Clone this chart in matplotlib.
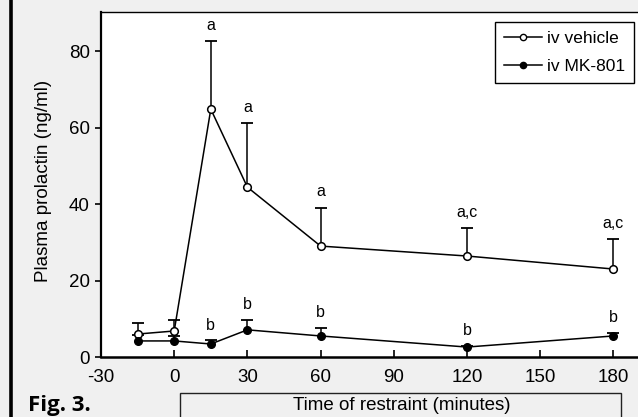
import matplotlib
matplotlib.use("Agg")
import matplotlib.pyplot as plt
from matplotlib.lines import Line2D
from matplotlib.patches import Rectangle

# time points (minutes)
times = [-15, 0, 15, 30, 60, 120, 180]

# iv vehicle: mean and upper SEM tip
vehicle_mean = [6.0, 6.8, 64.8, 44.4, 29.0, 26.4, 23.0]
vehicle_top = [8.9, 9.7, 82.6, 61.2, 39.0, 33.7, 30.8]
vehicle_sig = ["", "", "a", "a", "a", "a,c", "a,c"]

# iv MK-801
mk_mean = [4.2, 4.2, 3.4, 7.1, 5.5, 2.6, 5.5]
mk_top = [5.8, 5.5, 4.4, 9.7, 7.6, 2.9, 6.3]
mk_sig = ["", "", "b", "b", "b", "b", "b"]

xticks = [-30, 0, 30, 60, 90, 120, 150, 180]
yticks = [0, 20, 40, 60, 80]

W, H = 638, 417
BG = "#f0f0f0"
FS = 13.5

plt.rcParams["font.family"] = ["Liberation Sans", "DejaVu Sans"]
plt.rcParams["axes.unicode_minus"] = False

fig = plt.figure(figsize=(W / 100, H / 100), dpi=100, facecolor=BG)
ax = fig.add_axes([101 / W, 1 - 357 / H, 539 / W, 345 / H])
ax.set_facecolor("white")

# upper-only error bars: stem + cap at the top
for top, mean in ((vehicle_top, vehicle_mean), (mk_top, mk_mean)):
    ax.vlines(times, mean, top, color="black", lw=1.1, zorder=2)
    ax.plot(times, top, ls="none", marker="_", ms=8, mew=1.3, color="black", zorder=2)

ax.plot(times, vehicle_mean, color="black", lw=1.1, marker="o", ms=5.5,
        mfc="white", mec="black", mew=1.1, zorder=3)
ax.plot(times, mk_mean, color="black", lw=1.1, marker="o", ms=5.5,
        mfc="black", mec="black", zorder=3)

# significance letters above the error caps
for x, top, s in zip(times, vehicle_top, vehicle_sig):
    if s:
        ax.text(x, top + 2.2, s, ha="center", va="bottom", fontsize=11.5)
for x, top, s in zip(times, mk_top, mk_sig):
    if s:
        ax.text(x, top + 2.0, s, ha="center", va="bottom", fontsize=11.5)

ax.set_xlim(-30, -30 + 30 * 539 / 73.2)
ax.set_ylim(0, 90.2)
ax.set_xticks(xticks)
ax.set_yticks(yticks)
ax.tick_params(axis="x", direction="in", length=5, width=1.2, pad=8.5, labelsize=FS)
ax.tick_params(axis="y", direction="out", length=4, width=1.2, pad=4, labelsize=FS)
ax.spines["left"].set_linewidth(1.6)
ax.spines["bottom"].set_linewidth(1.8)
ax.spines["top"].set_linewidth(1.0)
ax.spines["right"].set_visible(False)

ax.set_ylabel("Plasma prolactin (ng/ml)", fontsize=FS)
ax.yaxis.set_label_coords((52 - 101) / 539, 0.51)

handles = [
    Line2D([], [], color="black", lw=1.1, marker="o", ms=4.5, mfc="white", mec="black"),
    Line2D([], [], color="black", lw=1.1, marker="o", ms=4.5, mfc="black", mec="black"),
]
leg = ax.legend(handles, ["iv vehicle", "iv MK-801"], loc="upper right",
                bbox_to_anchor=(634 / W, 1 - 22 / H),
                bbox_transform=fig.transFigure, borderaxespad=0, fancybox=False,
                edgecolor="black", framealpha=1, fontsize=12.5, handlelength=2.2,
                handletextpad=0.3, borderpad=0.5, labelspacing=0.75)
leg.get_frame().set_linewidth(1.0)

# x label in its own box below the axes
fig.add_artist(Rectangle((180 / W, -0.05), 441 / W, 0.05 + 1 - 393 / H,
                         transform=fig.transFigure, fill=False, ec="#222222", lw=1.0))
fig.text(402 / W, 1 - 406 / H, "Time of restraint (minutes)", ha="center", va="center",
         fontsize=FS)

fig.text(28 / W, 1 - 406 / H, "Fig. 3.", ha="left", va="center", fontsize=16,
         fontweight="bold", family=["Open Sans", "DejaVu Sans"])

# thick frame line down the left side
fig.add_artist(Line2D([10.5 / W, 10.5 / W], [0, 1], transform=fig.transFigure,
                      color="black", lw=2.6))

fig.savefig("out.png", dpi=100, facecolor=BG)
